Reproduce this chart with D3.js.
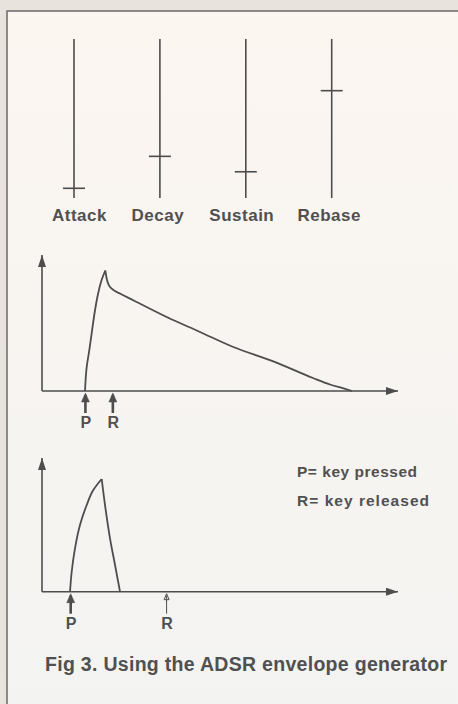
<!DOCTYPE html>
<html>
<head>
<meta charset="utf-8">
<script src="https://cdn.jsdelivr.net/npm/d3@7"></script>
<style>
  html, body { margin: 0; padding: 0; background: #f5f2ee; }
  svg { display: block; }
  text { font-family: "Liberation Sans", Arial, sans-serif; font-weight: bold; fill: #505050; }
</style>
</head>
<body>
<svg id="chart" width="458" height="704"></svg>
<script>
// slider panel
const sliderNames = ["Attack", "Decay", "Sustain", "Rebase"];
const sliderLevels = [0.061, 0.262, 0.165, 0.675];

// envelope 1: key held long, [time, level]
const attack1 = [[12.08, 0], [12.56, 0.2], [13.29, 0.34], [13.96, 0.48], [14.89, 0.67], [15.81, 0.815], [16.77, 0.923], [17.78, 1]];
const release1 = [[17.78, 1], [18.26, 0.921], [18.82, 0.876], [19.58, 0.849], [21.91, 0.809], [25.65, 0.753], [35.03, 0.614],
  [44.38, 0.49], [53.74, 0.365], [64.97, 0.246], [76.12, 0.108], [80.9, 0.054], [85.59, 0.014], [87.08, 0]];
const keys1 = [{ label: "P", t: 12.2 }, { label: "R", t: 19.9 }];

// envelope 2: key released early
const attack2 = [[7.87, 0], [8.34, 0.177], [9.27, 0.385], [10.67, 0.592], [12.56, 0.769], [14.41, 0.902], [16.77, 1]];
const release2 = [[16.77, 1], [17.7, 0.769], [19.1, 0.474], [20.51, 0.237], [21.91, 0]];
const keys2 = [{ label: "P", t: 8.06 }, { label: "R", t: 35.0, thin: true }];

const legendLines = ["P= key pressed", "R= key released"];
const caption = "Fig 3. Using the ADSR envelope generator";

const ink = "#4d4d4d";
const svg = d3.select("#chart");

// paper
const defs = svg.append("defs");
const grad = defs.append("linearGradient").attr("id", "paper").attr("x1", 0).attr("y1", 0).attr("x2", 0).attr("y2", 1);
grad.append("stop").attr("offset", "0%").attr("stop-color", "#fcf6f1");
grad.append("stop").attr("offset", "100%").attr("stop-color", "#f3f3f1");
svg.append("rect").attr("width", 458).attr("height", 704).attr("fill", "#e9e3de");
svg.append("rect").attr("x", 7).attr("y", 11).attr("width", 451).attr("height", 693).attr("fill", "url(#paper)");
svg.append("path").attr("d", "M7,704V11H458").attr("fill", "none").attr("stroke", "#6a6a6a").attr("stroke-width", 1.5);

defs.append("marker").attr("id", "arrow")
  .attr("viewBox", "0 0 12 8").attr("refX", 12).attr("refY", 4)
  .attr("markerWidth", 12).attr("markerHeight", 8).attr("markerUnits", "userSpaceOnUse")
  .attr("orient", "auto")
  .append("path").attr("d", "M0,0L12,4L0,8Z").attr("fill", ink);

// sliders
const sx = d3.scalePoint().domain(sliderNames).range([74, 331.7]);
const sy = d3.scaleLinear().domain([0, 1]).range([198, 39]);

const sliders = svg.append("g").selectAll("g").data(sliderNames).join("g");
sliders.append("line")
  .attr("x1", d => sx(d)).attr("x2", d => sx(d))
  .attr("y1", sy(0)).attr("y2", sy(1))
  .attr("stroke", ink).attr("stroke-width", 1.6);
sliders.append("line")
  .attr("x1", d => sx(d) - 11).attr("x2", d => sx(d) + 11)
  .attr("y1", (d, i) => sy(sliderLevels[i])).attr("y2", (d, i) => sy(sliderLevels[i]))
  .attr("stroke", ink).attr("stroke-width", 1.6);
sliders.append("text")
  .attr("x", d => sx(d) + (d === "Attack" ? 5.5 : d === "Decay" ? -2 : d === "Sustain" ? -4 : -2.5))
  .attr("y", 220.5)
  .attr("text-anchor", "middle")
  .attr("font-size", 17)
  .attr("letter-spacing", 0.5)
  .text(d => d);

function envelope(top, originY, peakY, attack, release, keys, releaseCurve) {
  const x = d3.scaleLinear().domain([0, 100]).range([42, 398]);
  const y = d3.scaleLinear().domain([0, 1]).range([originY, peakY]);
  const g = svg.append("g");

  // axes
  g.append("line").attr("x1", x(0)).attr("y1", y(0)).attr("x2", x(0)).attr("y2", top)
    .attr("stroke", ink).attr("stroke-width", 1.6).attr("marker-end", "url(#arrow)");
  g.append("line").attr("x1", x(0)).attr("y1", y(0)).attr("x2", x(100)).attr("y2", y(0))
    .attr("stroke", ink).attr("stroke-width", 1.6).attr("marker-end", "url(#arrow)");

  // attack is steep, so interpolate x against y; cusp kept sharp by separate paths
  const line = d3.line().x(d => x(d[0])).y(d => y(d[1]));
  g.append("path").attr("d", line.curve(d3.curveMonotoneY)(attack))
    .attr("fill", "none").attr("stroke", ink).attr("stroke-width", 1.8).attr("stroke-linejoin", "round");
  g.append("path").attr("d", line.curve(releaseCurve)(release))
    .attr("fill", "none").attr("stroke", ink).attr("stroke-width", 1.8).attr("stroke-linejoin", "round");

  // key markers
  const mk = g.selectAll(".key").data(keys).join("g").attr("class", "key");
  mk.append("line")
    .attr("x1", d => x(d.t)).attr("x2", d => x(d.t))
    .attr("y1", d => y(0) + 22).attr("y2", d => y(0) + 4)
    .attr("stroke", ink).attr("stroke-width", d => d.thin ? 1 : 2.6);
  mk.append("path")
    .attr("d", d => {
      const cx = x(d.t), ty = y(0) + 2, w = d.thin ? 2.5 : 4, h = d.thin ? 6 : 9;
      return `M${cx},${ty}L${cx + w},${ty + h}L${cx - w},${ty + h}Z`;
    })
    .attr("fill", d => d.thin ? "none" : ink)
    .attr("stroke", ink).attr("stroke-width", d => d.thin ? 1 : 0.5);
  mk.append("text")
    .attr("x", d => x(d.t) + 0.5)
    .attr("y", y(0) + 37)
    .attr("text-anchor", "middle")
    .attr("font-size", 16)
    .text(d => d.label);
}

envelope(255, 391, 270.5, attack1, release1, keys1, d3.curveMonotoneX);
envelope(458, 591.7, 479, attack2, release2, keys2, d3.curveMonotoneY);

// legend
svg.append("g").selectAll("text").data(legendLines).join("text")
  .attr("x", 297)
  .attr("y", (d, i) => 477 + i * 28.5)
  .attr("font-size", 15.5)
  .attr("textLength", (d, i) => i === 0 ? 120 : 132)
  .attr("lengthAdjust", "spacing")
  .text(d => d);

svg.append("text")
  .attr("x", 45).attr("y", 671)
  .attr("font-size", 19.5)
  .attr("textLength", 402)
  .attr("lengthAdjust", "spacing")
  .text(caption);
</script>
</body>
</html>
